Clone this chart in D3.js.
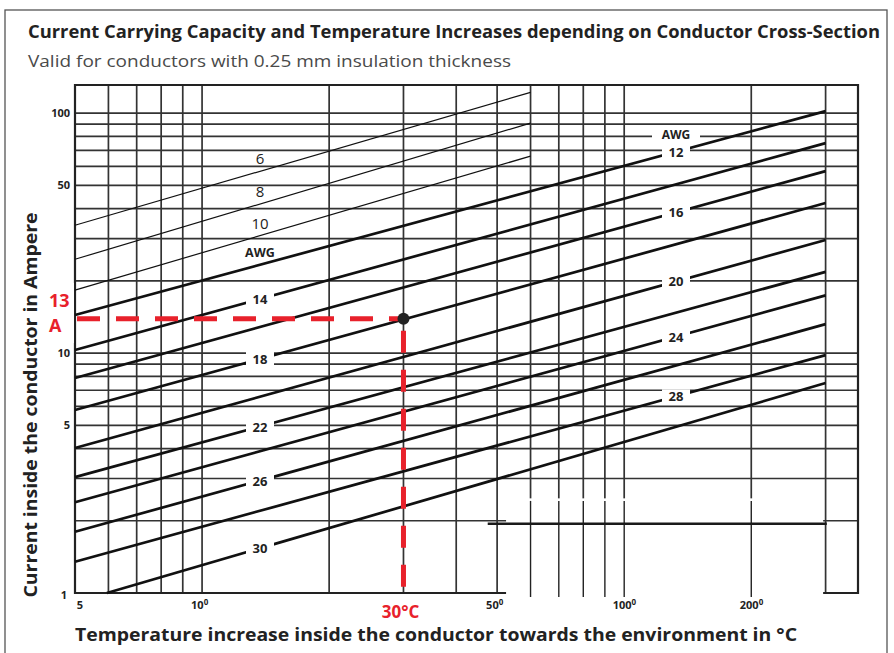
<!DOCTYPE html>
<html>
<head>
<meta charset="utf-8">
<title>Current Carrying Capacity</title>
<script src="https://d3js.org/d3.v7.min.js"></script>
<style>
  body { margin: 0; background: #fff; }
  svg text { font-family: "Open Sans", sans-serif; }
</style>
</head>
<body>
<script>
// temperature rise (°C) and current (A)
const tempGrid = [6, 7, 8, 9, 10, 20, 30, 40, 50, 60, 70, 80, 90, 100, 200, 300];
const ampGrid = [2, 3, 4, 5, 6, 7, 8, 9, 10, 20, 30, 40, 50, 60, 70, 80, 90, 100];
const tempLabels = [5, 10, 50, 100, 200];
const ampLabels = [1, 5, 10, 50, 100];

// thick AWG lines: start point and end point
const gauges = ["12", "14", "16", "18", "20", "22", "24", "26", "28", "30"];
const gaugeT0 = [5, 5, 5, 5, 5, 5, 5, 5, 5, 5.95];
const gaugeI0 = [14.4, 10.3, 7.87, 5.79, 4.02, 3.04, 2.39, 1.8, 1.35, 1.0];
const gaugeT1 = [300, 300, 300, 300, 300, 300, 300, 300, 300, 300];
const gaugeI1 = [102, 75, 57.3, 42.2, 29.6, 21.8, 17.4, 13.2, 9.8, 7.5];

// thin AWG lines
const thinGauges = ["6", "8", "10"];
const thinT0 = [5, 5, 5];
const thinI0 = [34.1, 24.6, 18.3];
const thinT1 = [60, 60, 60];
const thinI1 = [122, 90.9, 66.2];

// example reading
const markTemp = 30, markAmp = 13.9;

const W = 894, H = 653;
const svg = d3.select("body").append("svg").attr("width", W).attr("height", H);

// outer frame
svg.append("rect").attr("x", 5).attr("y", 10).attr("width", 882).attr("height", 660)
  .attr("fill", "none").attr("stroke", "#555").attr("stroke-width", 1.3);

svg.append("text").attr("x", 28).attr("y", 38)
  .attr("font-size", 18).attr("font-weight", "bold").attr("fill", "#222")
  .attr("textLength", 852).attr("lengthAdjust", "spacingAndGlyphs")
  .text("Current Carrying Capacity and Temperature Increases depending on Conductor Cross-Section");
svg.append("text").attr("x", 28).attr("y", 67)
  .attr("font-size", 17).attr("fill", "#4a4a4a")
  .attr("textLength", 483).attr("lengthAdjust", "spacingAndGlyphs")
  .text("Valid for conductors with 0.25 mm insulation thickness");

const x = d3.scaleLog().domain([5, 358]).range([75, 858]);
const y = d3.scaleLog().domain([1, 131]).range([593, 85]);
const [x0, x1] = x.range(), [y0, y1] = y.range();

const grid = svg.append("g").attr("stroke", "#333").attr("stroke-width", 1.7);
grid.selectAll(".v").data(tempGrid).join("line")
  .attr("x1", d => x(d)).attr("x2", d => x(d)).attr("y1", y1).attr("y2", y0);
grid.selectAll(".h").data(ampGrid).join("line")
  .attr("x1", x0).attr("x2", x1).attr("y1", d => y(d)).attr("y2", d => y(d));

// blotch in the scan, lower right
const patch = svg.append("g");
patch.append("rect").attr("x", x(52.5)).attr("y", y(2.48)).attr("width", x(296) - x(52.5))
  .attr("height", y0 - y(2.48) + 8).attr("fill", "#fff");
patch.selectAll("line.t").data(tempGrid.filter(d => d >= 60 && d <= 200)).join("line")
  .attr("x1", d => x(d)).attr("x2", d => x(d)).attr("y1", y(2.42)).attr("y2", y0 + 4)
  .attr("stroke", "#222").attr("stroke-width", 1.4);
patch.append("line").attr("x1", x(47.5)).attr("x2", x(302)).attr("y1", y(2) + 3).attr("y2", y(2) + 3)
  .attr("stroke", "#1a1a1a").attr("stroke-width", 2.4);

// plot border
svg.append("path")
  .attr("d", `M${x(52.5)},${y0}H${x0}V${y1}H${x1}V${y0}H${x(296)}`)
  .attr("fill", "none").attr("stroke", "#222").attr("stroke-width", 2.2);

const line = d3.line().x(d => x(d[0])).y(d => y(d[1]));
const pts = (t0, i0, t1, i1) => [[t0, i0], [t1, i1]];
const ampAt = (t0, i0, t1, i1, t) =>
  Math.exp(Math.log(i0) + (Math.log(i1) - Math.log(i0)) * (Math.log(t) - Math.log(t0)) / (Math.log(t1) - Math.log(t0)));

svg.append("g").selectAll("path").data(thinGauges).join("path")
  .attr("d", (g, i) => line(pts(thinT0[i], thinI0[i], thinT1[i], thinI1[i])))
  .attr("fill", "none").attr("stroke", "#111").attr("stroke-width", 1.2);

svg.append("g").selectAll("path").data(gauges).join("path")
  .attr("d", (g, i) => line(pts(gaugeT0[i], gaugeI0[i], gaugeT1[i], gaugeI1[i])))
  .attr("fill", "none").attr("stroke", "#111").attr("stroke-width", 2.7);

// labels on the thick lines, alternating left / right
const leftT = x.invert(260), rightT = x.invert(676);
const lab = svg.append("g");
gauges.forEach((g, i) => {
  const t = i % 2 === 0 ? rightT : leftT;
  const cy = y(ampAt(gaugeT0[i], gaugeI0[i], gaugeT1[i], gaugeI1[i], t));
  lab.append("rect").attr("x", x(t) - 14).attr("y", cy - 7).attr("width", 28).attr("height", 14).attr("fill", "#fff");
  lab.append("text").attr("x", x(t)).attr("y", cy + 5).attr("text-anchor", "middle")
    .attr("font-family", "DejaVu Sans").attr("font-size", 13).attr("font-weight", "bold").attr("fill", "#222")
    .text(g);
});
// AWG heading over the right column
lab.append("rect").attr("x", x(rightT) - 24).attr("y", y(80) - 7).attr("width", 48).attr("height", 13).attr("fill", "#fff");
lab.append("text").attr("x", x(rightT)).attr("y", y(80) + 3).attr("text-anchor", "middle")
  .attr("font-family", "DejaVu Sans").attr("font-size", 12).attr("font-weight", "bold").attr("fill", "#222").text("AWG");

// thin line labels sit above their lines
thinGauges.forEach((g, i) => {
  const cy = y(ampAt(thinT0[i], thinI0[i], thinT1[i], thinI1[i], leftT));
  lab.append("text").attr("x", x(leftT)).attr("y", cy - 7).attr("text-anchor", "middle")
    .attr("font-size", 15).attr("fill", "#222").text(g);
});
lab.append("text").attr("x", x(leftT)).attr("y", y(ampAt(gaugeT0[0], gaugeI0[0], gaugeT1[0], gaugeI1[0], leftT)) - 8)
  .attr("text-anchor", "middle").attr("font-family", "DejaVu Sans").attr("font-size", 12.5)
  .attr("font-weight", "bold").attr("fill", "#222").text("AWG");

// tick labels
svg.append("g").selectAll("text").data(ampLabels).join("text")
  .attr("x", d => d === 1 ? 67 : 70).attr("y", d => d === 1 ? y(d) + 6 : y(d) + 4)
  .attr("text-anchor", "end").attr("font-family", "DejaVu Sans").attr("font-size", 11)
  .attr("font-weight", "bold").attr("fill", "#222").text(d => d);
const xl = svg.append("g").selectAll("text").data(tempLabels).join("text")
  .attr("x", d => d === 5 ? x(d) + 5 : x(d) - 10 - String(d).length * 0.5)
  .attr("y", 609).attr("text-anchor", d => d === 5 ? "middle" : "start")
  .attr("font-family", "DejaVu Sans").attr("font-size", 11).attr("font-weight", "bold").attr("fill", "#222");
xl.append("tspan").text(d => d);
xl.filter(d => d !== 5).append("tspan").attr("dy", -4).attr("font-size", 8).text("0");

// axis titles
svg.append("text").attr("transform", "translate(37,405) rotate(-90)").attr("text-anchor", "middle")
  .attr("font-size", 18.5).attr("font-weight", "bold").attr("fill", "#222")
  .attr("textLength", 385).attr("lengthAdjust", "spacingAndGlyphs")
  .text("Current inside the conductor in Ampere");
svg.append("text").attr("x", 436).attr("y", 641).attr("text-anchor", "middle")
  .attr("font-size", 18).attr("font-weight", "bold").attr("fill", "#222")
  .attr("textLength", 722).attr("lengthAdjust", "spacingAndGlyphs")
  .text("Temperature increase inside the conductor towards the environment in °C");

// red reading guides
const red = "#e8212b";
svg.append("rect").attr("x", 40).attr("y", 283).attr("width", 34).attr("height", 60).attr("fill", "#fff");
svg.append("line").attr("x1", x0 + 2).attr("x2", x(markTemp)).attr("y1", y(markAmp)).attr("y2", y(markAmp))
  .attr("stroke", red).attr("stroke-width", 5).attr("stroke-dasharray", "23,16");
svg.append("line").attr("x1", x(markTemp)).attr("x2", x(markTemp)).attr("y1", y(markAmp) + 12).attr("y2", y0)
  .attr("stroke", red).attr("stroke-width", 5).attr("stroke-dasharray", "22,17");
svg.append("circle").attr("cx", x(markTemp)).attr("cy", y(markAmp)).attr("r", 6).attr("fill", "#222");
svg.append("text").attr("x", 49).attr("y", 307).attr("font-size", 18).attr("font-weight", "bold").attr("fill", red).text("13");
svg.append("text").attr("x", 49).attr("y", 332).attr("font-size", 18).attr("font-weight", "bold").attr("fill", red).text("A");
svg.append("text").attr("x", x(markTemp) - 3).attr("y", 618).attr("text-anchor", "middle")
  .attr("font-size", 17).attr("font-weight", "bold").attr("fill", red).text("30°C");
</script>
</body>
</html>
